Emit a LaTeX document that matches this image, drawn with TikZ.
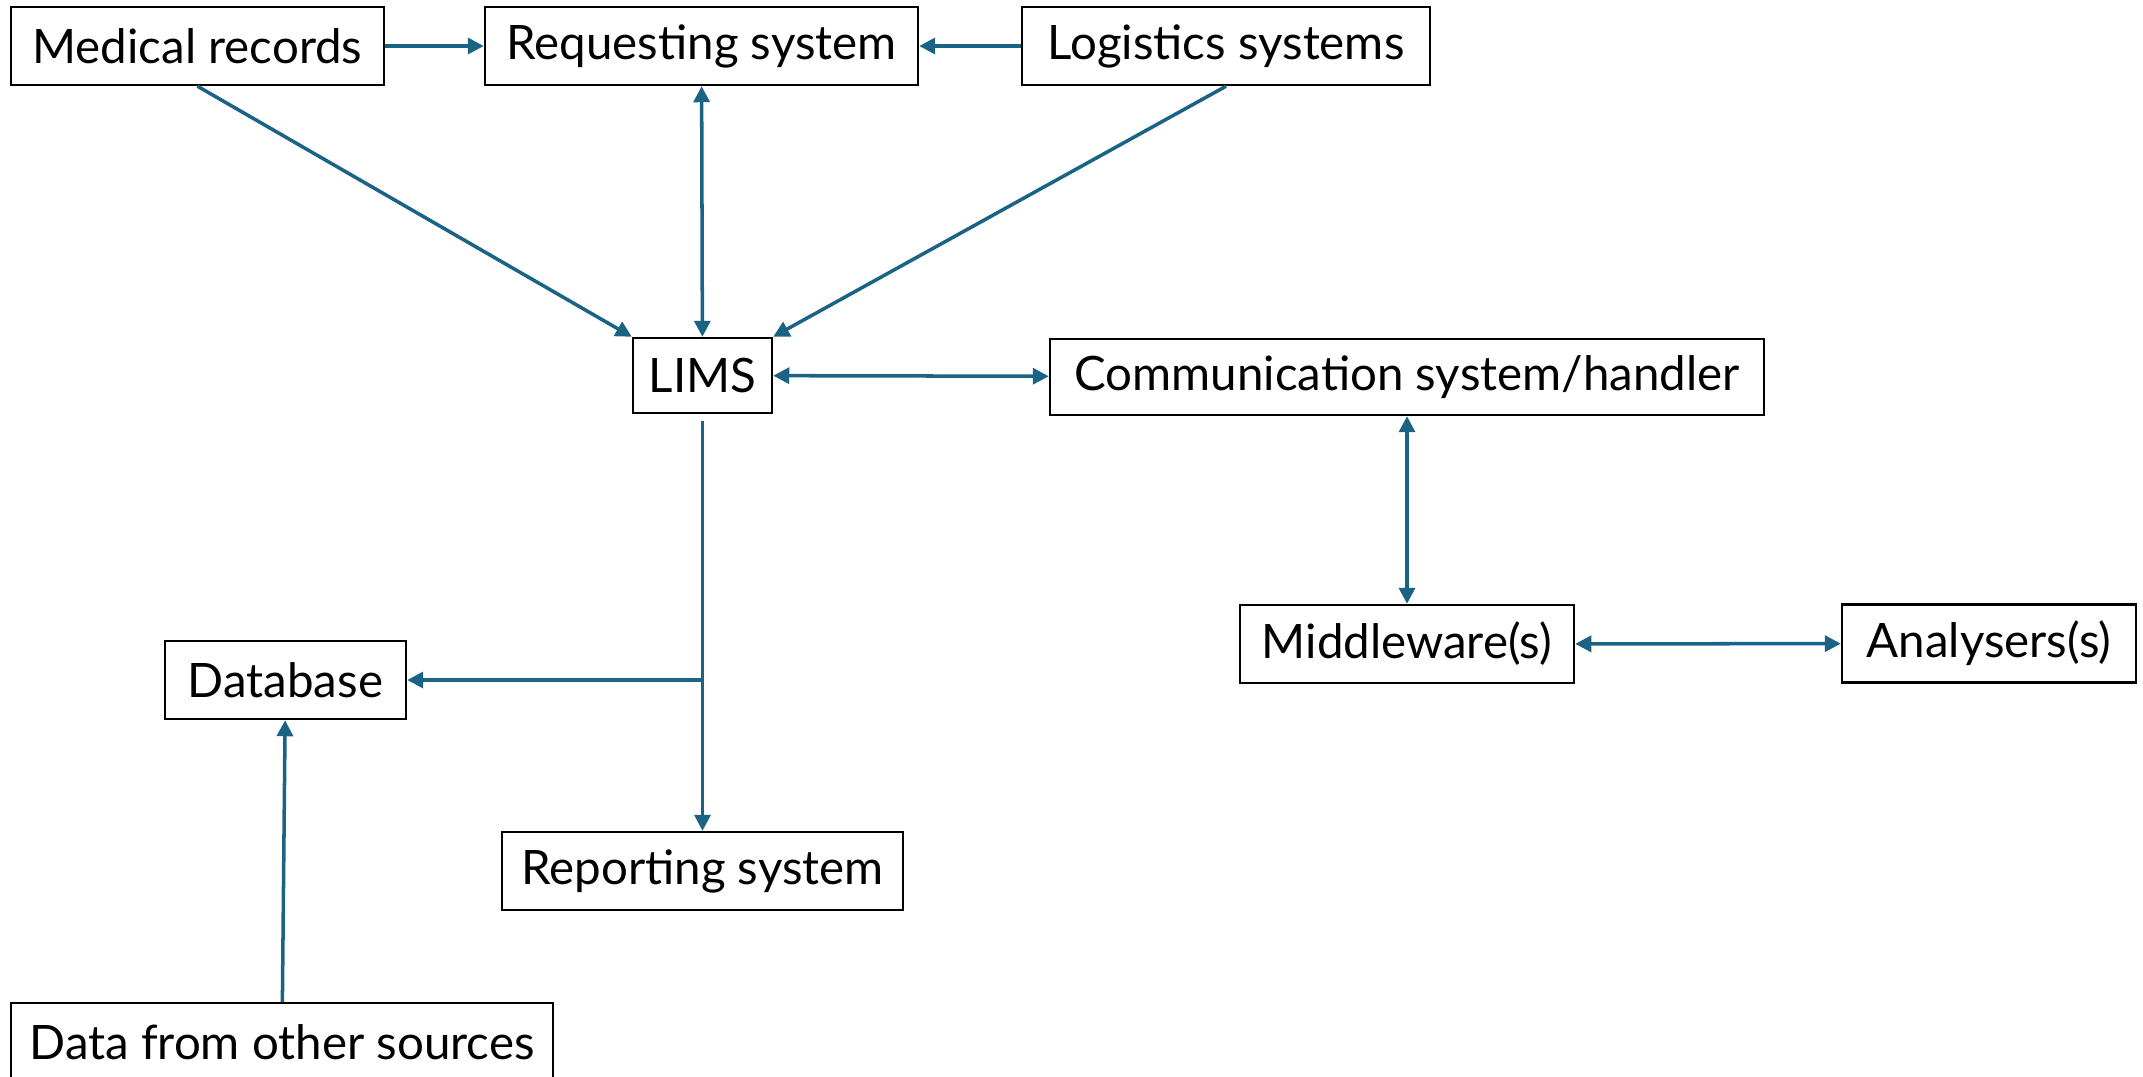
\documentclass[tikz,border=0pt]{standalone}
\usepackage{fontspec}
\setmainfont{Lato}
\usetikzlibrary{arrows.meta}

\definecolor{linkblue}{HTML}{1A6385}

\tikzset{
  >={Triangle[length=0.16cm, width=0.16cm]},
  sysbox/.style={draw=black, line width=0.7pt, fill=white, inner sep=0pt,
    minimum height=0.78cm},
  link/.style={draw=linkblue, line width=1pt}
}

\begin{document}
\begin{tikzpicture}[y=-1cm, font=\fontsize{13.5}{15}\selectfont]

  \useasboundingbox (0,0) rectangle (21.43,10.76);

  %% top row
  \node[sysbox, minimum width=3.73cm] (med) at (1.975, 0.46) {Medical records};
  \node[sysbox, minimum width=4.33cm] (req) at (7.015, 0.46) {Requesting system};
  \node[sysbox, minimum width=4.08cm] (log) at (12.26, 0.46) {Logistics systems};

  %% middle
  \node[sysbox, minimum width=1.39cm, minimum height=0.75cm] (lims) at (7.025, 3.755) {LIMS};
  \node[sysbox, minimum width=7.14cm, minimum height=0.76cm] (comm) at (14.07, 3.77) {Communication system/handler};
  \node[sysbox, minimum width=3.34cm] (mid) at (14.07, 6.44) {Middleware(s)};
  \node[sysbox, minimum width=2.94cm] (ana) at (19.89, 6.435) {Analysers(s)};

  %% bottom left
  \node[sysbox, minimum width=2.41cm] (db) at (2.855, 6.80) {Database};
  \node[sysbox, minimum width=4.01cm] (rep) at (7.025, 8.71) {Reporting system};
  \node[sysbox, minimum width=5.42cm] (data) at (2.82, 10.42) {Data from other sources};

  \draw[link, ->] (med) -- (req);
  \draw[link, ->] (log) -- (req);
  \draw[link, <->] (req) -- (lims);
  \draw[link, ->] (med.south) -- (lims.north west);
  \draw[link, ->] (log.south) -- (lims.north east);

  \draw[link, <->] (lims) -- (comm);
  \draw[link, <->] (comm) -- (mid);
  \draw[link, <->] (mid) -- (ana);

  %% LIMS out to reporting, branching off to the database
  \coordinate (split) at (lims.south |- db.east);
  \draw[link, ->, shorten <=0.07cm] (lims) -- (rep);
  \draw[link, ->] (split) -- (db);
  \draw[link, ->] (data) -- (db);
\end{tikzpicture}
\end{document}
